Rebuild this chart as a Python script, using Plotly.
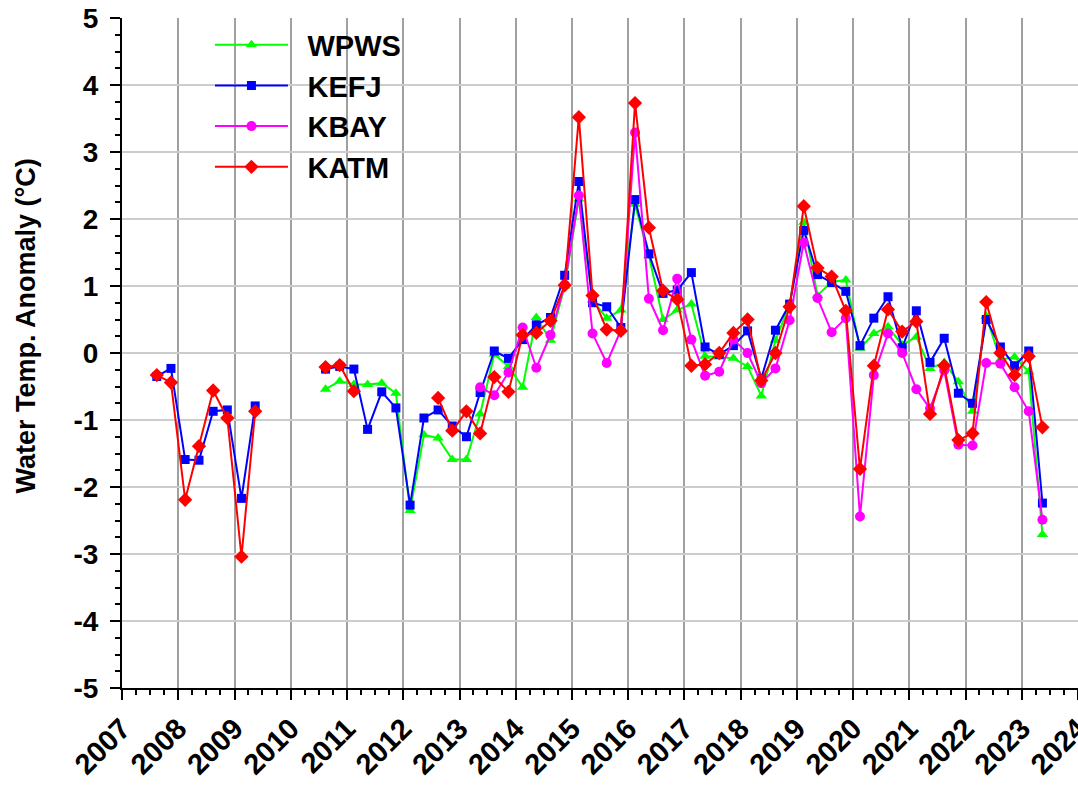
import pandas as pd
import plotly.graph_objects as go

# Seasonal sampling dates (mid-Feb, mid-May, mid-Aug, mid-Nov), Aug 2007 - May 2023
sample_dates = pd.date_range("2007-08-01", "2023-05-01", freq="3MS") + pd.Timedelta(days=14)

# Water temperature anomalies (deg C) per site; None = no data for that season
wpws = [None, None,
        None, None, None, None,
        None, None, None, None,
        None, None, -0.54, -0.42,
        -0.47, -0.47, -0.45, -0.60,
        -2.35, -1.22, -1.27, -1.59,
        -1.59, -0.91, -0.02, -0.20,
        -0.51, 0.53, 0.19, 1.00,
        2.30, 0.79, 0.52, 0.64,
        2.22, 1.45, 0.50, 0.64,
        0.73, -0.05, -0.06, -0.08,
        -0.20, -0.64, 0.19, 0.72,
        1.95, 0.86, 1.06, 1.09,
        0.07, 0.29, 0.39, 0.12,
        0.24, -0.23, -0.14, -0.43,
        -0.87, 0.55, -0.10, -0.06,
        -0.28, -2.71]

kefj = [-0.35, -0.23,
        -1.59, -1.60, -0.87, -0.85,
        -2.17, -0.79, None, None,
        None, None, -0.24, -0.20,
        -0.24, -1.14, -0.58, -0.82,
        -2.27, -0.97, -0.85, -1.09,
        -1.25, -0.59, 0.03, -0.08,
        0.20, 0.42, 0.53, 1.16,
        2.56, 0.75, 0.69, 0.38,
        2.29, 1.48, 0.89, 0.94,
        1.20, 0.09, -0.02, 0.11,
        0.33, -0.38, 0.34, 0.73,
        1.83, 1.17, 1.05, 0.92,
        0.11, 0.52, 0.84, 0.08,
        0.63, -0.14, 0.22, -0.60,
        -0.75, 0.50, 0.09, -0.19,
        0.03, -2.24]

kbay = [None, None,
        None, None, None, None,
        None, None, None, None,
        None, None, None, None,
        None, None, None, None,
        None, None, None, None,
        None, -0.51, -0.63, -0.29,
        0.38, -0.22, 0.27, 1.02,
        2.35, 0.29, -0.15, 0.34,
        3.29, 0.81, 0.34, 1.11,
        0.20, -0.34, -0.28, 0.20,
        0.00, -0.45, -0.23, 0.49,
        1.65, 0.82, 0.31, 0.52,
        -2.44, -0.33, 0.29, 0.00,
        -0.54, -0.83, -0.26, -1.37,
        -1.38, -0.15, -0.16, -0.51,
        -0.87, -2.49]

katm = [-0.33, -0.44,
        -2.19, -1.39, -0.56, -0.97,
        -3.04, -0.87, None, None,
        None, None, -0.21, -0.18,
        -0.57, None, None, None,
        None, None, -0.67, -1.16,
        -0.87, -1.20, -0.36, -0.58,
        0.27, 0.30, 0.48, 1.01,
        3.52, 0.86, 0.35, 0.33,
        3.73, 1.87, 0.93, 0.80,
        -0.19, -0.17, 0.00, 0.30,
        0.50, -0.41, 0.00, 0.69,
        2.19, 1.27, 1.14, 0.63,
        -1.73, -0.19, 0.65, 0.32,
        0.47, -0.91, -0.19, -1.30,
        -1.20, 0.76, 0.00, -0.33,
        -0.05, -1.11]

# y-axis tick values and their labels (plain hyphen for negatives)
y_ticks = [5, 4, 3, 2, 1, 0, -1, -2, -3, -4, -5]
y_tick_labels = ["5", "4", "3", "2", "1", "0", "-1", "-2", "-3", "-4", "-5"]

series = [
    ("WPWS", wpws, "#00ff00", "triangle-up", 10),
    ("KEFJ", kefj, "#0000ff", "square", 9),
    ("KBAY", kbay, "#ff00ff", "circle", 10),
    ("KATM", katm, "#ff0000", "diamond", 11),
]

FONT = "Liberation Sans, Arial, sans-serif"

fig = go.Figure()
for name, vals, color, symbol, size in series:
    fig.add_trace(go.Scatter(
        x=sample_dates, y=vals, name="\u2002" + name, mode="lines+markers",
        connectgaps=False,
        line=dict(color=color, width=2),
        marker=dict(color=color, symbol=symbol, size=size, line=dict(width=0)),
    ))

# zero reference line across the sampled period
fig.add_shape(type="line", xref="x", yref="y",
              x0="2007-01-01", x1=sample_dates[-1], y0=0, y1=0,
              line=dict(color="black", width=2), layer="below")

fig.update_layout(
    width=1078, height=790,
    margin=dict(l=122, r=0, t=18, b=102, autoexpand=False),
    paper_bgcolor="white", plot_bgcolor="white",
    font=dict(family=FONT, color="black"),
    showlegend=True,
    legend=dict(
        x=0.092, y=0.998, xanchor="left", yanchor="top",
        bgcolor="rgba(0,0,0,0)", borderwidth=0,
        font=dict(family=FONT, size=29, weight="bold"),
        itemwidth=73, tracegroupgap=0,
    ),
    annotations=[dict(
        text="Water Temp. Anomaly (°C)", textangle=-90,
        xref="paper", yref="paper", x=-0.1, y=0.54,
        xanchor="center", yanchor="middle", showarrow=False,
        font=dict(family=FONT, size=27, weight="bold"),
    )],
)

fig.update_xaxes(
    type="date", range=["2007-01-01", "2024-01-01"], automargin=False,
    tick0="2007-01-01", dtick="M12", tickformat="%Y", tickangle=-45,
    tickfont=dict(family=FONT, size=29, weight="bold"),
    ticklabeloverflow="allow", ticklabelstandoff=0,
    ticks="outside", ticklen=10, tickwidth=2, tickcolor="black",
    minor=dict(dtick="M3", ticks="outside", ticklen=5, tickwidth=1.5,
               tickcolor="black", showgrid=False),
    showline=True, linecolor="black", linewidth=2,
    showgrid=True, gridcolor="#a0a0a0", gridwidth=1.5,
    zeroline=False,
)

fig.update_yaxes(
    range=[-5, 5], tickmode="array", tickvals=y_ticks, ticktext=y_tick_labels,
    automargin=False,
    tickfont=dict(family=FONT, size=28, weight="bold"),
    ticks="outside", ticklen=10, tickwidth=2, tickcolor="black",
    ticklabelstandoff=6,
    minor=dict(dtick=0.25, ticks="outside", ticklen=5, tickwidth=1.5,
               tickcolor="black", showgrid=False),
    showline=True, linecolor="black", linewidth=2,
    showgrid=True, gridcolor="#cccccc", gridwidth=1.5,
    zeroline=False,
)

fig.write_html("out.html")
